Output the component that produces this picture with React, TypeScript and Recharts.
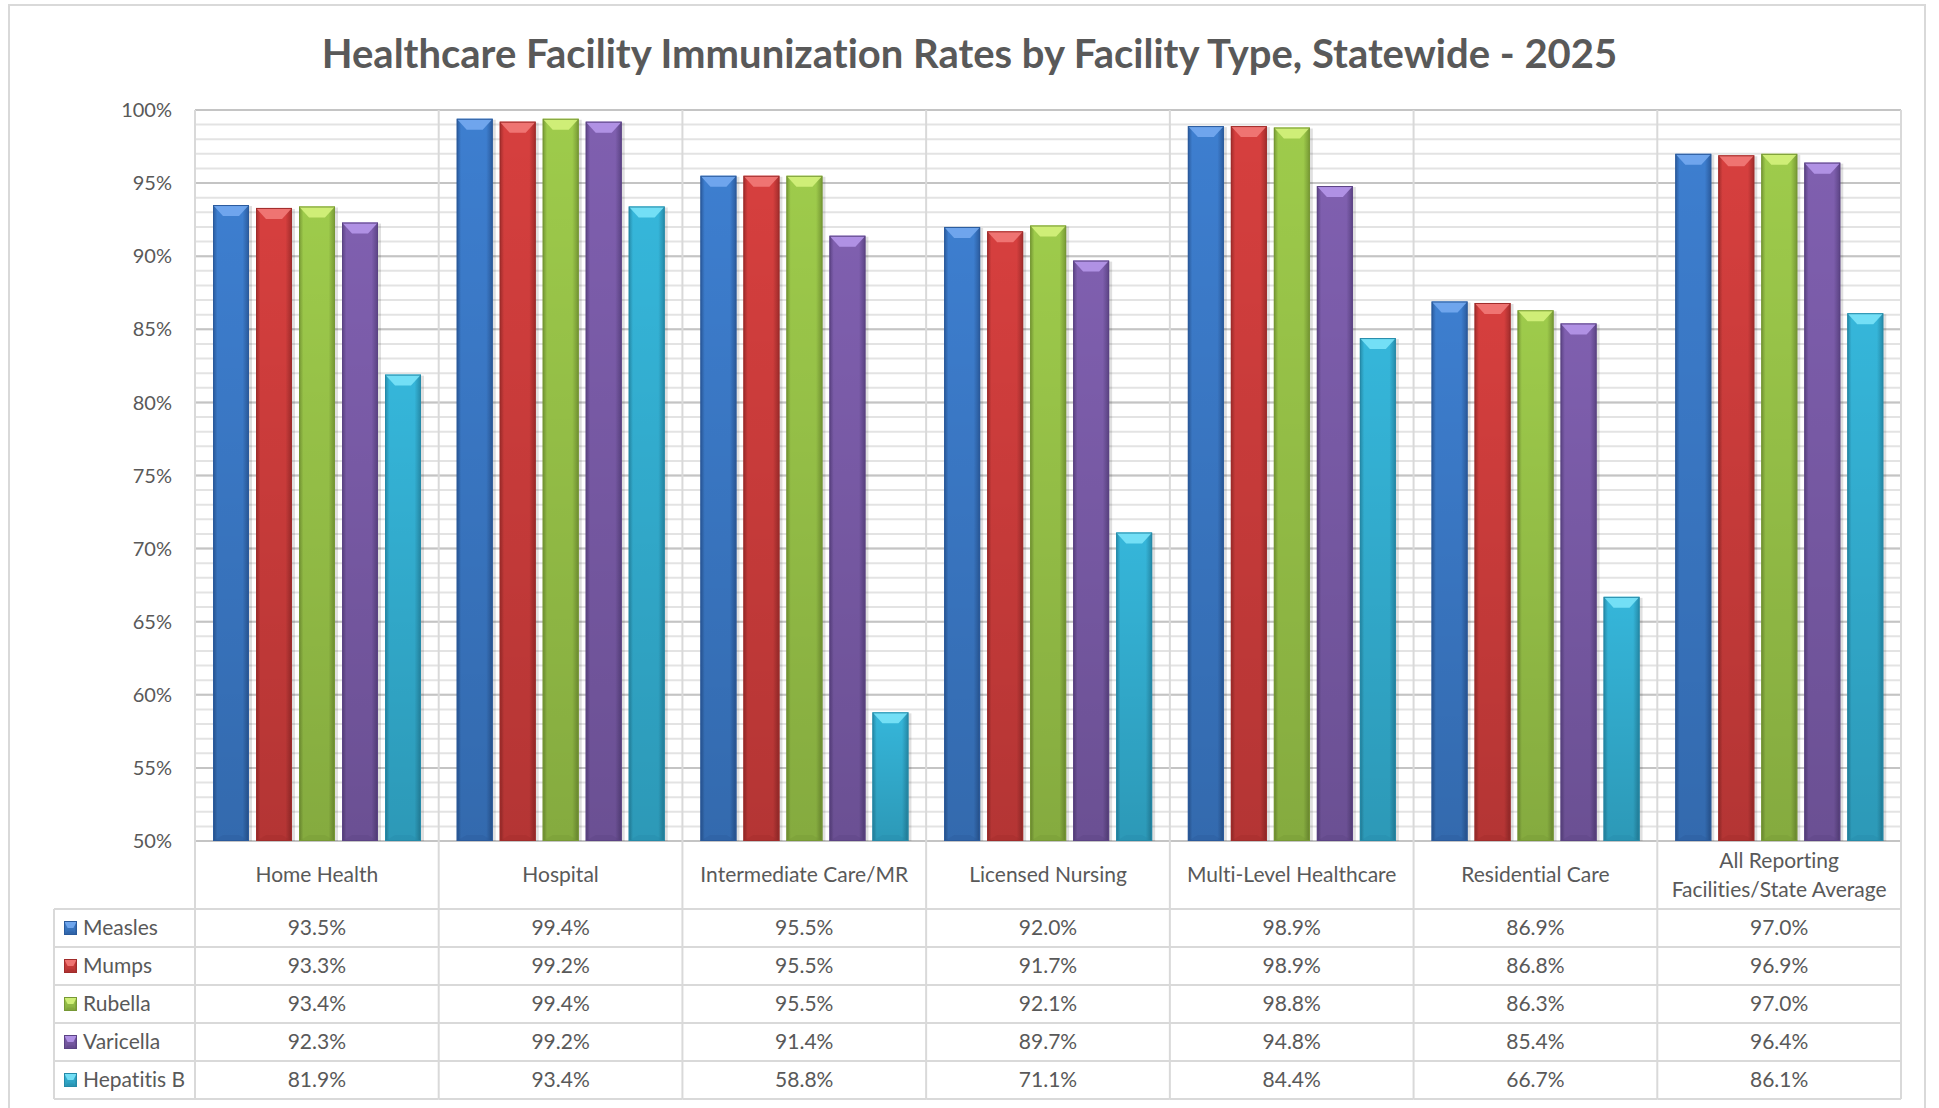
import { BarChart, Bar, XAxis, YAxis, CartesianGrid } from 'recharts'

// category labels, split the way they wrap under the axis
const categoryLines = [
  ['Home Health'],
  ['Hospital'],
  ['Intermediate Care/MR'],
  ['Licensed Nursing'],
  ['Multi-Level Healthcare'],
  ['Residential Care'],
  ['All Reporting', 'Facilities/State Average'],
]
const categories = categoryLines.map(l => l.join(' '))

const measles = [93.5, 99.4, 95.5, 92.0, 98.9, 86.9, 97.0]
const mumps = [93.3, 99.2, 95.5, 91.7, 98.9, 86.8, 96.9]
const rubella = [93.4, 99.4, 95.5, 92.1, 98.8, 86.3, 97.0]
const varicella = [92.3, 99.2, 91.4, 89.7, 94.8, 85.4, 96.4]
const hepatitisB = [81.9, 93.4, 58.8, 71.1, 84.4, 66.7, 86.1]

const yTicks = [50, 55, 60, 65, 70, 75, 80, 85, 90, 95, 100]
const minorTicks = Array.from({ length: 51 }, (_, i) => 50 + i)

const series = [
  { id: 'measles', name: 'Measles', values: measles, light: '#74aaf0', mid: '#3d7ecf', dark: '#2a5a9c' },
  { id: 'mumps', name: 'Mumps', values: mumps, light: '#f27a78', mid: '#d63f3e', dark: '#a02c2b' },
  { id: 'rubella', name: 'Rubella', values: rubella, light: '#d4f27c', mid: '#9ecb4b', dark: '#769834' },
  { id: 'varicella', name: 'Varicella', values: varicella, light: '#b697ea', mid: '#7f5faf', dark: '#5b4384' },
  { id: 'hepB', name: 'Hepatitis B', values: hepatitisB, light: '#7ae3f8', mid: '#35b6da', dark: '#258aa8' },
]

const data = categories.map((c, i) => {
  const row: Record<string, string | number> = { category: c }
  series.forEach(s => { row[s.id] = s.values[i] })
  return row
})

// layout
const W = 1939
const H = 1108
const PLOT_LEFT = 195
const PLOT_RIGHT = 1901
const PLOT_TOP = 110
const PLOT_BOTTOM = 841
const TABLE_TOP = 909
const ROW_H = 38
const TABLE_BOTTOM = TABLE_TOP + ROW_H * series.length
const LEGEND_LEFT = 54
const COL_W = (PLOT_RIGHT - PLOT_LEFT) / categories.length
const TEXT = '#595959'
const LINE = '#d9d9d9'
const FONT = 'Lato, "Open Sans", sans-serif'

function BevelBar(props: any) {
  const { x, y, width, height, light, mid, dark, gid, shadow = true } = props
  if (!height || height <= 0) return null
  const bv = Math.min(10, width * 0.28)
  const bh = Math.min(11, height / 2)
  const bb = Math.min(6, height / 4)
  return (
    <g>
      <defs>
        <linearGradient id={`h-${gid}`} x1="0" y1="0" x2="1" y2="0">
          <stop offset="0" stopColor={dark} />
          <stop offset="0.12" stopColor={mid} />
          <stop offset="0.82" stopColor={mid} />
          <stop offset="1" stopColor={dark} />
        </linearGradient>
        <linearGradient id={`v-${gid}`} x1="0" y1="0" x2="0" y2="1">
          <stop offset="0" stopColor="#000" stopOpacity="0" />
          <stop offset="1" stopColor="#000" stopOpacity="0.16" />
        </linearGradient>
      </defs>
      {shadow && <rect x={x + 2} y={y + 1} width={width + 1} height={height + 1} fill="#000" opacity={0.12} />}
      <rect x={x} y={y} width={width} height={height} fill={`url(#h-${gid})`} />
      <rect x={x} y={y} width={width} height={height} fill={`url(#v-${gid})`} />
      <polygon
        points={`${x},${y} ${x + width},${y} ${x + width - bv},${y + bh} ${x + bv},${y + bh}`}
        fill={light}
        opacity={0.9}
      />
      <polygon
        points={`${x},${y + height} ${x + width},${y + height} ${x + width - bv},${y + height - bb} ${x + bv},${y + height - bb}`}
        fill={dark}
        opacity={0.35}
      />
      <rect x={x + 0.5} y={y + 0.5} width={width - 1} height={height - 1} fill="none" stroke={dark} strokeWidth={1} />
    </g>
  )
}

function TableTick(props: any) {
  const { x, payload } = props
  const i: number = payload?.index ?? props.index ?? 0
  const cx = x
  const left = cx - COL_W / 2
  const right = cx + COL_W / 2
  const lines = categoryLines[i] || [String(payload?.value)]
  const labelMid = (PLOT_BOTTOM + TABLE_TOP) / 2
  const last = i === categories.length - 1
  const rowYs = series.map((_, r) => TABLE_TOP + r * ROW_H)
  return (
    <g>
      <line x1={left} x2={left} y1={PLOT_TOP} y2={TABLE_BOTTOM} stroke={LINE} strokeWidth={2} />
      {last && <line x1={right} x2={right} y1={PLOT_TOP} y2={TABLE_BOTTOM} stroke={LINE} strokeWidth={2} />}
      {[...rowYs, TABLE_BOTTOM].map((ry, r) => (
        <line key={r} x1={left} x2={right} y1={ry} y2={ry} stroke={LINE} strokeWidth={2} />
      ))}
      {lines.map((t, k) => (
        <text
          key={k}
          x={cx}
          y={labelMid + (k - (lines.length - 1) / 2) * 29}
          dy="0.35em"
          textAnchor="middle"
          fill={TEXT}
          fontSize={21}
          fontFamily={FONT}
        >
          {t}
        </text>
      ))}
      {series.map((s, r) => (
        <text
          key={s.id}
          x={cx}
          y={rowYs[r] + ROW_H / 2}
          dy="0.35em"
          textAnchor="middle"
          fill={TEXT}
          fontSize={21}
          fontFamily={FONT}
        >
          {s.values[i].toFixed(1)}%
        </text>
      ))}
      {i === 0 && (
        <g>
          <line x1={LEGEND_LEFT} x2={LEGEND_LEFT} y1={TABLE_TOP} y2={TABLE_BOTTOM} stroke={LINE} strokeWidth={2} />
          {[...rowYs, TABLE_BOTTOM].map((ry, r) => (
            <line key={r} x1={LEGEND_LEFT} x2={left} y1={ry} y2={ry} stroke={LINE} strokeWidth={2} />
          ))}
          {series.map((s, r) => (
            <g key={s.id}>
              <BevelBar
                x={64}
                y={rowYs[r] + ROW_H / 2 - 7}
                width={13}
                height={14}
                light={s.light}
                mid={s.mid}
                dark={s.dark}
                gid={`lg-${s.id}`}
                shadow={false}
              />
              <text x={83} y={rowYs[r] + ROW_H / 2} dy="0.35em" fill={TEXT} fontSize={21} fontFamily={FONT}>
                {s.name}
              </text>
            </g>
          ))}
        </g>
      )}
    </g>
  )
}

export default function App() {
  return (
    <div
      style={{
        position: 'absolute', left: 0, top: 0, width: W, height: H, background: '#fff',
        fontFamily: FONT, fontVariantLigatures: 'none',
      }}
    >
      <div
        style={{
          position: 'absolute', left: 8, top: 4, width: 1918, height: H,
          border: '2px solid #d9d9d9', boxSizing: 'border-box',
        }}
      />
      <div
        style={{
          position: 'absolute', left: 0, top: 33, width: W, textAlign: 'center',
          fontSize: 40, lineHeight: 1, fontWeight: 700, color: TEXT, fontFamily: FONT,
          fontVariantLigatures: 'none',
        }}
      >
        Healthcare Facility Immunization Rates by Facility Type, Statewide - 2025
      </div>
      <div style={{ position: 'absolute', left: 0, top: 0 }}>
        <BarChart
          width={W}
          height={H}
          data={data}
          margin={{ top: PLOT_TOP, right: W - PLOT_RIGHT, bottom: H - TABLE_BOTTOM, left: 0 }}
          barCategoryGap={18}
          barGap={7}
        >
          <CartesianGrid
            vertical={false}
            stroke="#e3e3e3"
            strokeWidth={2}
            horizontalCoordinatesGenerator={({ yAxis, offset }: any) =>
              minorTicks.map(v =>
                yAxis && typeof yAxis.scale === 'function'
                  ? yAxis.scale(v)
                  : offset.top + (offset.height * (100 - v)) / 50
              )
            }
          />
          <CartesianGrid vertical={false} stroke="#c4c4c4" strokeWidth={2} />
          <XAxis
            dataKey="category"
            interval={0}
            axisLine={false}
            tickLine={false}
            tickSize={0}
            tickMargin={0}
            height={TABLE_BOTTOM - PLOT_BOTTOM}
            tick={(p: any) => <TableTick {...p} />}
          />
          <YAxis
            domain={[50, 100]}
            ticks={yTicks}
            allowDataOverflow
            axisLine={false}
            tickLine={false}
            tickSize={0}
            tickMargin={23}
            width={PLOT_LEFT}
            tickFormatter={(v: number) => `${v}%`}
            tick={{ fill: TEXT, fontSize: 20, fontFamily: FONT }}
          />
          {series.map(s => (
            <Bar
              key={s.id}
              dataKey={s.id}
              name={s.name}
              isAnimationActive={false}
              shape={(p: any) => (
                <BevelBar {...p} light={s.light} mid={s.mid} dark={s.dark} gid={`${s.id}-${p.index}`} />
              )}
            />
          ))}
        </BarChart>
      </div>
    </div>
  )
}
